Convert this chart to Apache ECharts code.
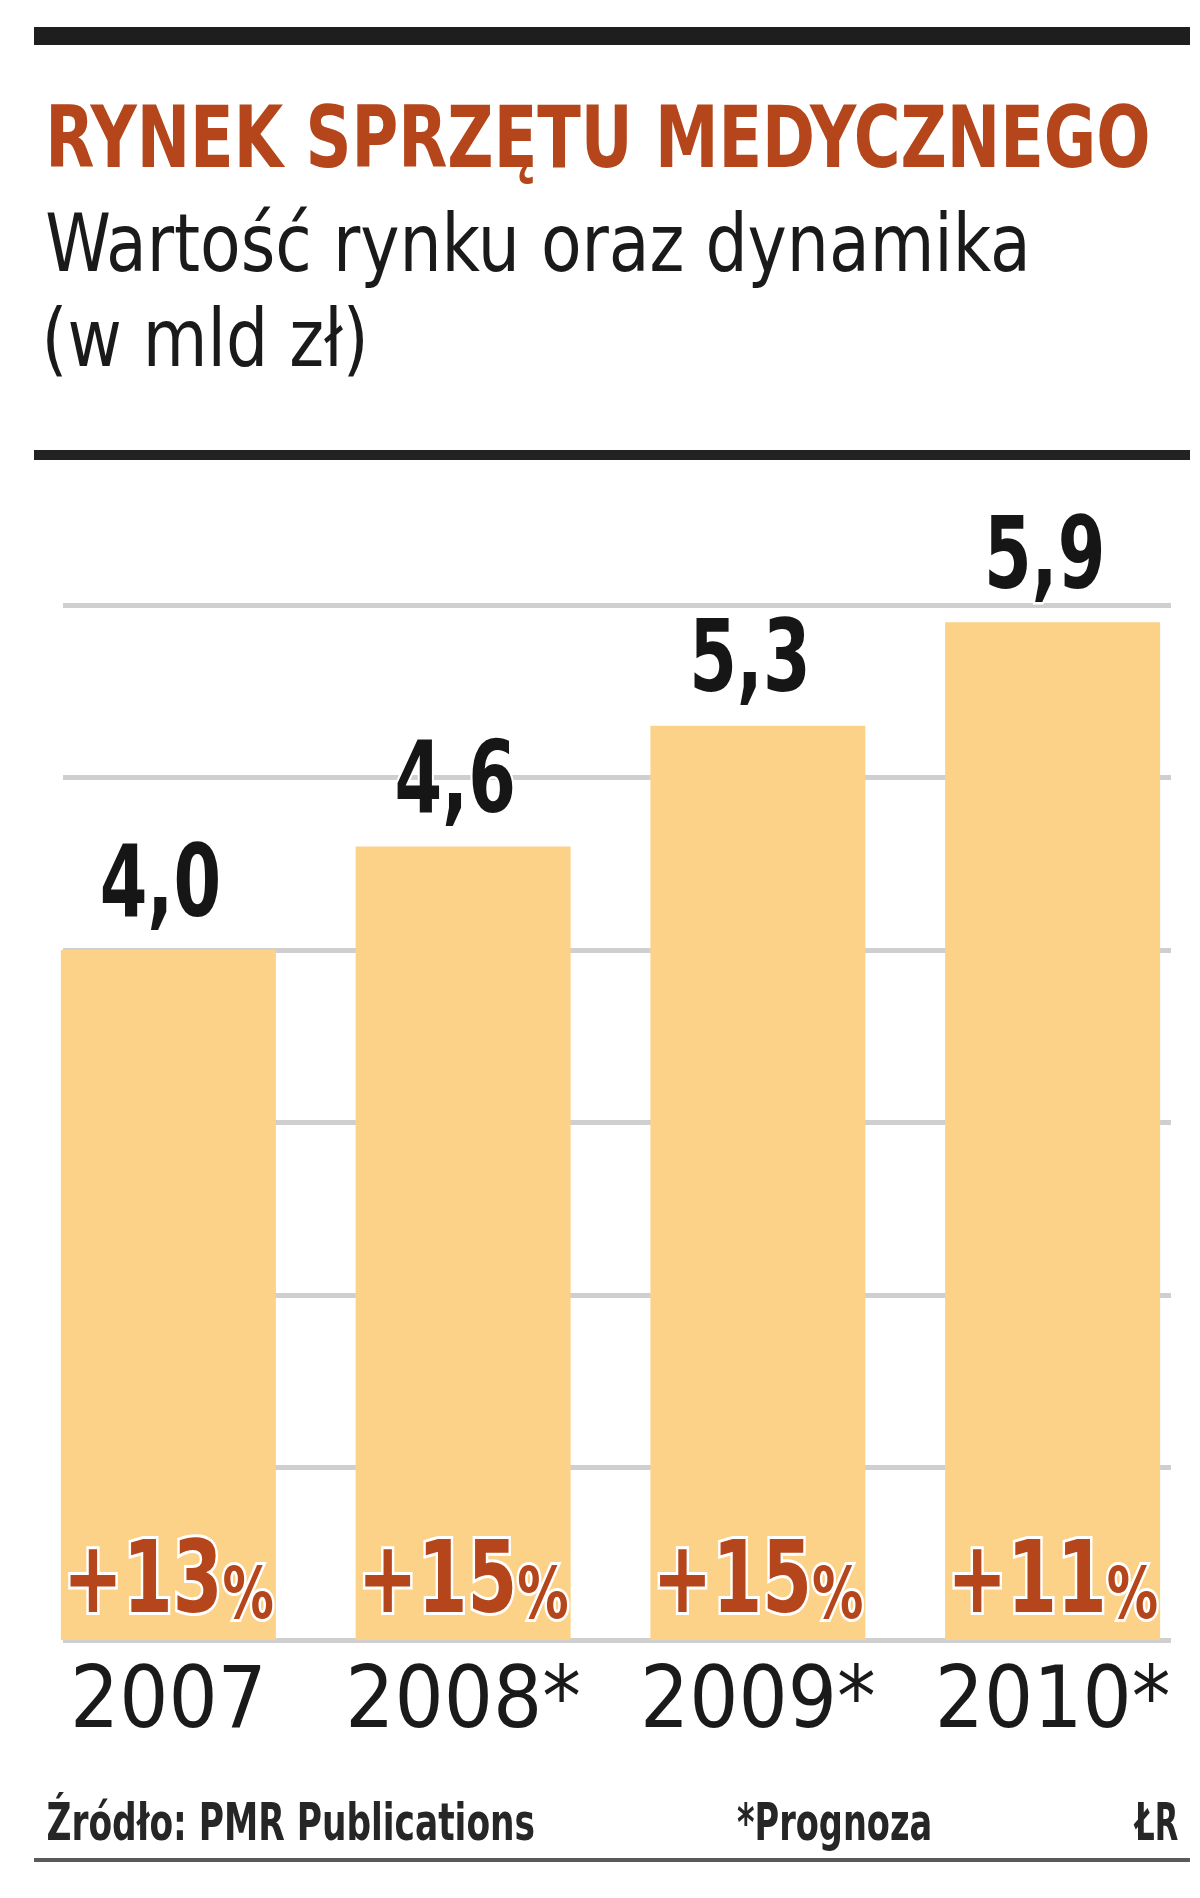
<!DOCTYPE html>
<html>
<head>
<meta charset="utf-8">
<script src="https://cdn.jsdelivr.net/npm/echarts@6/dist/echarts.min.js"></script>
<style>
html,body{margin:0;padding:0;background:#fff;}
#chart{width:1200px;height:1898px;}
</style>
</head>
<body>
<div id="chart"></div>
<script>
// ---- data ----
const categories = ['2007', '2008*', '2009*', '2010*'];
const values = [4.0, 4.6, 5.3, 5.9];
const valueLabels = ['4,0', '4,6', '5,3', '5,9'];
const growthLabels = ['+13', '+15', '+15', '+11'];
const yMin = 0, yMax = 6, yInterval = 1;

const titleText = 'RYNEK SPRZĘTU MEDYCZNEGO';
const subtitleLines = ['Wartość rynku oraz dynamika', '(w mld zł)'];
const sourceText = 'Źródło: PMR Publications';
const noteText = '*Prognoza';
const authorText = 'ŁR';

// ---- styling ----
const FAM = '"DejaVu Sans Condensed", "DejaVu Sans", sans-serif';
const RUST = '#b5461c';
const BAR = '#fcd288';
const INK = '#161616';

const mctx = document.createElement('canvas').getContext('2d');
function measure(text, font) {
  mctx.font = font;
  mctx.textAlign = 'left';
  const m = mctx.measureText(text);
  return {w: m.width, l: m.actualBoundingBoxLeft, r: m.actualBoundingBoxRight};
}
function inkWidth(text, font) { const m = measure(text, font); return m.l + m.r; }

// horizontally fitted text, ink starting at `left`, ink width `targetW`
function fittedText(text, font, left, targetW, y, fill) {
  const m = measure(text, font);
  const s = targetW / (m.l + m.r);
  return {type: 'text', x: left + m.l * s, y: y, scaleX: s, silent: true,
          style: {text: text, font: font, fill: fill, align: 'left', verticalAlign: 'middle'}};
}

const VAL_FONT = 'bold 99px ' + FAM;
const valScale = 113 / inkWidth('5,9', VAL_FONT);
const PCT_A = 'bold 99px ' + FAM, PCT_B = 'bold 71px ' + FAM;
const pa = measure('+13', PCT_A), pb = measure('%', PCT_B);
const pctScale = 202 / (pa.l + pa.w + pb.r);

const titleFont = 'bold 85px ' + FAM;
const subFont = '80px ' + FAM;
const footFont = 'bold 51px ' + FAM;
const sub1 = measure(subtitleLines[0], subFont);
const subScale = 978 / (sub1.l + sub1.r);
const sub2 = measure(subtitleLines[1], subFont);

const chart = echarts.init(document.getElementById('chart'), null, {renderer: 'canvas'});

const labelData = values.map((v, i) => [i, v]);

const option = {
  animation: false,
  backgroundColor: '#ffffff',
  grid: [
    {left: 63, right: 29, top: 605, bottom: 258},
    {left: 21, width: 1191, top: 605, bottom: 258}
  ],
  xAxis: [
    {gridIndex: 0, type: 'category', data: categories, show: false},
    {gridIndex: 1, type: 'category', data: categories,
     axisLine: {show: false}, axisTick: {show: false},
     axisLabel: {interval: 0, margin: 22, fontSize: 86, lineHeight: 86, color: '#1a1a1a', fontFamily: FAM}}
  ],
  yAxis: [
    {gridIndex: 0, type: 'value', min: yMin, max: yMax, interval: yInterval,
     axisLabel: {show: false}, axisLine: {show: false}, axisTick: {show: false},
     splitLine: {show: true, lineStyle: {color: '#cfcfcf', width: 5}}},
    {gridIndex: 1, type: 'value', min: yMin, max: yMax, interval: yInterval, show: false,
     splitLine: {show: false}}
  ],
  series: [
    {
      type: 'bar', xAxisIndex: 1, yAxisIndex: 1, data: values, barWidth: 215,
      itemStyle: {color: BAR}, z: 3
    },
    {
      type: 'custom', xAxisIndex: 1, yAxisIndex: 1, data: labelData, z: 5,
      encode: {x: 0, y: 1},
      renderItem: function (params, api) {
        const i = params.dataIndex;
        const top = api.coord([api.value(0), api.value(1)]);
        const base = api.coord([api.value(0), 0]);
        return {
          type: 'group',
          children: [
            {type: 'text', x: top[0] - 8, y: top[1] - 60, scaleX: valScale,
             style: {text: valueLabels[i], font: VAL_FONT, fill: INK, align: 'center', verticalAlign: 'middle',
                     stroke: '#ffffff', lineWidth: 5}},
            {type: 'text', x: base[0], y: base[1] - 54, scaleX: pctScale,
             style: {text: '{a|' + growthLabels[i] + '}{b|%}', align: 'center', verticalAlign: 'middle',
                     rich: {
                       a: {font: PCT_A, fill: RUST, lineHeight: 99, stroke: '#ffffff', lineWidth: 6},
                       b: {font: PCT_B, fill: RUST, lineHeight: 80, verticalAlign: 'bottom', stroke: '#ffffff', lineWidth: 6}
                     }}}
          ]
        };
      }
    }
  ],
  graphic: [
    {type: 'rect', shape: {x: 34, y: 27, width: 1156, height: 18}, style: {fill: '#1e1e1e'}, silent: true},
    fittedText(titleText, titleFont, 51, 1097, 145, RUST),
    fittedText(subtitleLines[0], subFont, 47, 978, 250, '#1a1a1a'),
    {type: 'text', x: 47 + sub2.l * subScale, y: 345, scaleX: subScale, silent: true,
     style: {text: subtitleLines[1], font: subFont, fill: '#1a1a1a', align: 'left', verticalAlign: 'middle'}},
    {type: 'rect', shape: {x: 34, y: 450, width: 1156, height: 10}, style: {fill: '#222222'}, silent: true},
    fittedText(sourceText, footFont, 48, 486, 1827, '#262626'),
    fittedText(noteText, footFont, 737, 193, 1827, '#262626'),
    fittedText(authorText, footFont, 1133, 45, 1827, '#262626'),
    {type: 'rect', shape: {x: 34, y: 1858, width: 1156, height: 4}, style: {fill: '#5a5a5a'}, silent: true}
  ]
};
chart.setOption(option);
</script>
</body>
</html>
